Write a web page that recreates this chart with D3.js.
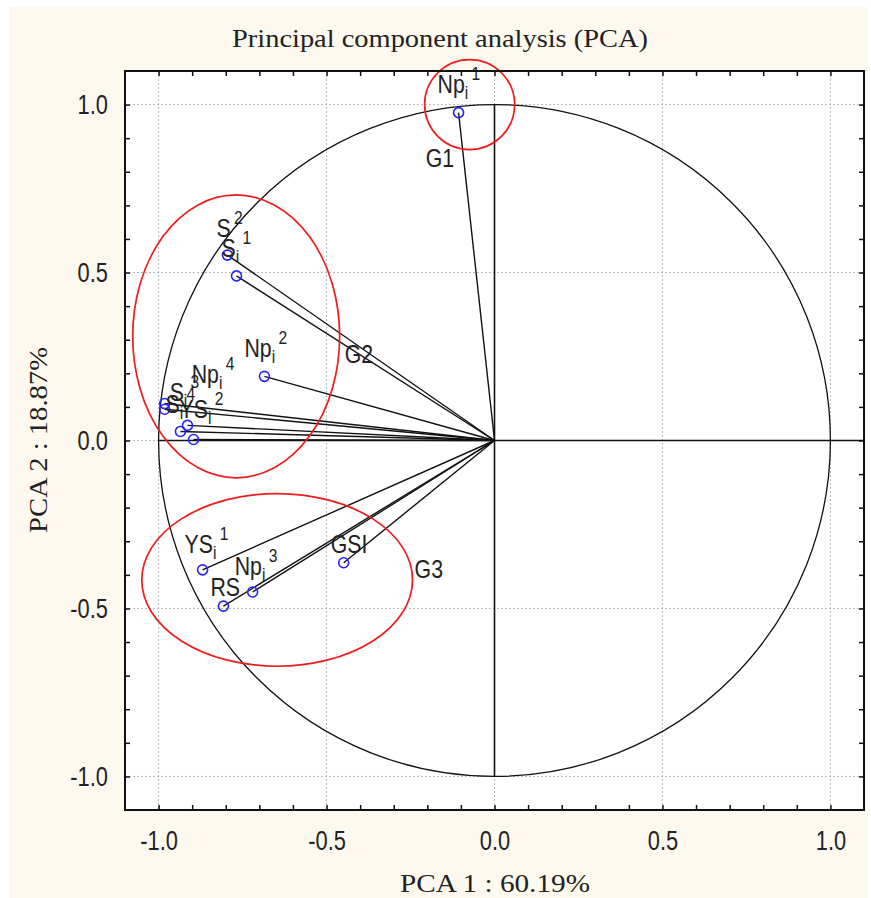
<!DOCTYPE html>
<html>
<head>
<meta charset="utf-8">
<script src="https://cdn.jsdelivr.net/npm/d3@7"></script>
<style>
  body { margin: 0; background: #fff; }
</style>
</head>
<body>
<div id="main"></div>
<script>
// Loadings on the two components
const varBase = ['Np', 'S', 'S', 'Np', 'Np', 'S', 'YS', 'S', '', 'YS', 'Np', 'RS', 'GSI'];
const varSub  = ['i', '', 'i', 'i', 'i', 'i', 'i', 'i', '', 'i', 'i', '', ''];
const varSup  = ['1', '2', '1', '2', '4', '3', '2', '4', '', '1', '3', '', ''];
const pc1 = [-0.107, -0.795, -0.768, -0.685, -0.982, -0.982, -0.914, -0.935, -0.896, -0.869, -0.720, -0.807, -0.449];
const pc2 = [0.976, 0.552, 0.490, 0.191, 0.110, 0.093, 0.045, 0.027, 0.003, -0.385, -0.451, -0.493, -0.364];

// Group labels and the red ellipses round them
const groupNames = ['G1', 'G2', 'G3'];
const groupX = [-0.205, -0.446, -0.238];
const groupY = [0.815, 0.230, -0.409];
const ellCx = [-0.074, -0.769, -0.647];
const ellCy = [1.0, 0.310, -0.415];
const ellRx = [0.134, 0.308, 0.403];
const ellRy = [0.134, 0.421, 0.257];

const majorTicks = [-1.0, -0.5, 0.0, 0.5, 1.0];

// label offsets in pixels from each point
const labelDx = [-21, -11, -15, -20, 27, 5, -8, -15, 0, -18, -18, -13, -13];
const labelDy = [-20, -18, -19, -19, -21, -8, -7, -18, 0, -17, -17, -10, -10];

const W = 871, H = 898;
const svg = d3.select('#main').append('svg')
  .attr('width', W).attr('height', H)
  .style('display', 'block');

// cream panel
svg.append('rect')
  .attr('x', 9).attr('y', 7)
  .attr('width', 859).attr('height', 891)
  .attr('fill', '#fdf9ef');

const x = d3.scaleLinear().domain([-1.1, 1.1]).range([125, 864]);
const y = d3.scaleLinear().domain([-1.1, 1.1]).range([810, 71]);

// white plot area
svg.append('rect')
  .attr('x', x(-1.1)).attr('y', y(1.1))
  .attr('width', x(1.1) - x(-1.1)).attr('height', y(-1.1) - y(1.1))
  .attr('fill', '#fff');

// dotted grid
const grid = svg.append('g').attr('stroke', '#b8b8b8').attr('stroke-dasharray', '2,2').attr('stroke-width', 1);
grid.selectAll('.gx').data(majorTicks).join('line')
  .attr('x1', d => x(d)).attr('x2', d => x(d))
  .attr('y1', y(1.1)).attr('y2', y(-1.1));
grid.selectAll('.gy').data(majorTicks).join('line')
  .attr('y1', d => y(d)).attr('y2', d => y(d))
  .attr('x1', x(-1.1)).attr('x2', x(1.1));

// unit circle
svg.append('circle')
  .attr('cx', x(0)).attr('cy', y(0))
  .attr('r', x(1) - x(0))
  .attr('fill', 'none').attr('stroke', '#111').attr('stroke-width', 1.3);

// axes lines through origin
svg.append('line')
  .attr('x1', x(-1)).attr('x2', x(1.1))
  .attr('y1', y(0)).attr('y2', y(0))
  .attr('stroke', '#111').attr('stroke-width', 1.6);
svg.append('line')
  .attr('x1', x(0)).attr('x2', x(0))
  .attr('y1', y(1)).attr('y2', y(-1))
  .attr('stroke', '#111').attr('stroke-width', 1.6);

const pts = pc1.map((v, i) => ({ i, px: v, py: pc2[i] }));

// vectors from origin
svg.append('g').selectAll('line').data(pts).join('line')
  .attr('x1', x(0)).attr('y1', y(0))
  .attr('x2', d => x(d.px)).attr('y2', d => y(d.py))
  .attr('stroke', '#111').attr('stroke-width', 1.4);

// red ellipses
svg.append('g').selectAll('ellipse').data(ellCx).join('ellipse')
  .attr('cx', (d, i) => x(d)).attr('cy', (d, i) => y(ellCy[i]))
  .attr('rx', (d, i) => x(ellRx[i]) - x(0))
  .attr('ry', (d, i) => y(0) - y(ellRy[i]))
  .attr('fill', 'none').attr('stroke', '#ee1c1c').attr('stroke-width', 1.7);

// point markers
svg.append('g').selectAll('circle').data(pts).join('circle')
  .attr('cx', d => x(d.px)).attr('cy', d => y(d.py))
  .attr('r', 5)
  .attr('fill', 'none').attr('stroke', '#2424ff').attr('stroke-width', 1.6);

// variable labels
const labels = svg.append('g')
  .attr('font-family', 'Liberation Sans, Arial, sans-serif')
  .attr('fill', '#222');
pts.forEach(d => {
  if (!varBase[d.i]) return;
  const lx = x(d.px) + labelDx[d.i];
  const ly = y(d.py) + labelDy[d.i];
  const t = labels.append('text')
    .attr('transform', `translate(${lx},${ly}) scale(0.82,1)`)
    .attr('font-size', 26);
  t.append('tspan').text(varBase[d.i]);
  let off = 0;
  if (varSub[d.i]) {
    t.append('tspan').attr('font-size', 19).attr('dy', 6).text(varSub[d.i]);
    off = 6;
  }
  if (varSup[d.i]) {
    t.append('tspan').attr('font-size', 19).attr('dx', 4).attr('dy', -13 - off).text(varSup[d.i]);
  }
});

// group labels
labels.selectAll('.grp').data(groupNames).join('text')
  .attr('transform', (d, i) => `translate(${x(groupX[i])},${y(groupY[i])}) scale(0.82,1)`)
  .attr('font-size', 26)
  .text(d => d);

// axes with inward ticks every 0.1
const minor = d3.range(-10, 11).map(k => k / 10);
const fmt = d => majorTicks.some(m => Math.abs(m - d) < 1e-9) ? d3.format('.1f')(d).replace('\u2212', '-') : '';

function styleAxis(g) {
  g.select('.domain').remove();
  g.selectAll('.tick line').attr('stroke', '#111').attr('stroke-width', 1.5);
  g.selectAll('.tick text')
    .attr('font-family', 'Liberation Sans, Arial, sans-serif')
    .attr('font-size', 28)
    .attr('fill', '#222');
}

svg.append('g')
  .attr('transform', `translate(0,${y(-1.1)})`)
  .call(d3.axisBottom(x).tickValues(minor).tickSize(-5).tickPadding(20).tickFormat(fmt))
  .call(styleAxis)
  .call(g => g.selectAll('.tick text').attr('transform', 'scale(0.78,1)'));

svg.append('g')
  .attr('transform', `translate(0,${y(1.1)})`)
  .call(d3.axisTop(x).tickValues(minor).tickSize(-5).tickFormat(''))
  .call(styleAxis);

svg.append('g')
  .attr('transform', `translate(${x(-1.1)},0)`)
  .call(d3.axisLeft(y).tickValues(minor).tickSize(-5).tickPadding(22).tickFormat(fmt))
  .call(styleAxis)
  .call(g => g.selectAll('.tick text').attr('transform', 'scale(0.78,1)'));

svg.append('g')
  .attr('transform', `translate(${x(1.1)},0)`)
  .call(d3.axisRight(y).tickValues(minor).tickSize(-5).tickFormat(''))
  .call(styleAxis);

// frame
svg.append('rect')
  .attr('x', x(-1.1)).attr('y', y(1.1))
  .attr('width', x(1.1) - x(-1.1)).attr('height', y(-1.1) - y(1.1))
  .attr('fill', 'none').attr('stroke', '#111').attr('stroke-width', 2);

// titles
const serif = 'Liberation Serif, Times New Roman, serif';
svg.append('text')
  .attr('x', 440).attr('y', 47)
  .attr('text-anchor', 'middle')
  .attr('font-family', serif).attr('font-size', 26)
  .attr('textLength', 416).attr('lengthAdjust', 'spacingAndGlyphs')
  .attr('fill', '#222')
  .text('Principal component analysis (PCA)');

svg.append('text')
  .attr('x', 495).attr('y', 892)
  .attr('text-anchor', 'middle')
  .attr('font-family', serif).attr('font-size', 26)
  .attr('textLength', 190).attr('lengthAdjust', 'spacingAndGlyphs')
  .attr('fill', '#222')
  .text('PCA 1 : 60.19%');

svg.append('text')
  .attr('transform', 'translate(47,440) rotate(-90)')
  .attr('text-anchor', 'middle')
  .attr('font-family', serif).attr('font-size', 26)
  .attr('textLength', 186).attr('lengthAdjust', 'spacingAndGlyphs')
  .attr('fill', '#222')
  .text('PCA 2 : 18.87%');
</script>
</body>
</html>
